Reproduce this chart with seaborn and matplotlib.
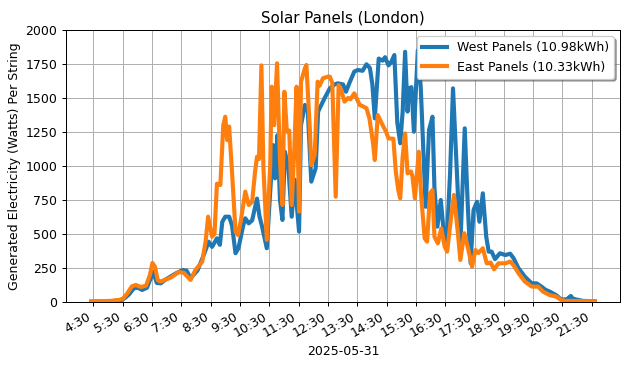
#!/usr/bin/env python3

import pandas as pd
import matplotlib
matplotlib.use("Agg")
import matplotlib.pyplot as plt
import matplotlib.dates as mdates
import seaborn as sns

DAY = "2025-05-31"

west_times = [
    "4:26", "5:07", "5:29", "5:35", "5:43", "5:53", "6:01", "6:10", "6:20", "6:28",
    "6:32", "6:40", "6:48", "6:58", "7:19", "7:33", "7:41", "7:49", "8:03", "8:16",
    "8:26", "8:33", "8:43", "8:49", "8:54", "9:00", "9:08", "9:14", "9:21", "9:27",
    "9:37", "9:41", "9:48", "9:55", "10:05", "10:10", "10:15", "10:25", "10:32", "10:38",
    "10:42", "10:47", "10:52", "10:57", "11:02", "11:09", "11:16", "11:22", "11:31", "11:35",
    "11:43", "11:49", "11:56", "12:05", "12:10", "12:23", "12:34", "12:44", "12:50", "13:01",
    "13:07", "13:14", "13:24", "13:31", "13:41", "13:49", "13:56", "14:01", "14:06", "14:14",
    "14:22", "14:27", "14:34", "14:39", "14:46", "14:52", "14:58", "15:03", "15:08", "15:13",
    "15:16", "15:21", "15:26", "15:34", "15:40", "15:50", "15:57", "16:04", "16:08", "16:14",
    "16:21", "16:26", "16:33", "16:40", "16:46", "16:53", "17:01", "17:10", "17:16", "17:22",
    "17:28", "17:35", "17:40", "17:47", "17:54", "17:59", "18:05", "18:12", "18:22", "18:33",
    "18:43", "18:50", "19:00", "19:13", "19:27", "19:37", "19:47", "19:55", "20:04", "20:17",
    "20:25", "20:31", "20:39", "20:47", "20:51", "20:58", "21:12", "21:36",
]
west_watts = [
    3, 5, 15, 30, 55, 100, 105, 88, 105, 180,
    223, 140, 137, 165, 210, 235, 230, 176, 230, 345,
    443, 405, 468, 420, 590, 627, 627, 560, 358, 395,
    566, 615, 578, 600, 760, 630, 560, 395, 811, 1154,
    909, 1228, 750, 603, 1105, 995, 627, 900, 517, 1300,
    1449, 1400, 885, 983, 1400, 1497, 1571, 1600, 1608, 1600,
    1546, 1610, 1694, 1706, 1700, 1748, 1720, 1600, 1350, 1790,
    1775, 1800, 1740, 1760, 1816, 1320, 1167, 1400, 1840, 1400,
    1571, 1580, 1252, 1850, 1580, 700, 1265, 1362, 838, 554,
    750, 554, 432, 946, 1571, 1020, 407, 1277, 727, 285,
    676, 737, 590, 799, 480, 370, 370, 315, 358, 345,
    355, 321, 248, 186, 137, 137, 113, 90, 76, 50,
    25, 18, 20, 44, 25, 18, 8, 5,
]

east_times = [
    "4:26", "5:07", "5:23", "5:31", "5:39", "5:49", "5:57", "6:08", "6:18", "6:26",
    "6:31", "6:36", "6:42", "6:48", "7:09", "7:25", "7:35", "7:49", "7:59", "8:13",
    "8:20", "8:25", "8:33", "8:38", "8:43", "8:50", "8:56", "9:00", "9:04", "9:08",
    "9:14", "9:21", "9:26", "9:32", "9:41", "9:48", "9:55", "10:01", "10:05", "10:09",
    "10:14", "10:18", "10:25", "10:32", "10:35", "10:40", "10:46", "10:52", "10:57", "11:01",
    "11:06", "11:11", "11:16", "11:21", "11:26", "11:31", "11:35", "11:43", "11:46", "11:53",
    "11:56", "12:03", "12:09", "12:13", "12:20", "12:30", "12:34", "12:39", "12:46", "12:52",
    "12:58", "13:04", "13:11", "13:16", "13:24", "13:35", "13:41", "13:49", "13:55", "14:02",
    "14:06", "14:12", "14:22", "14:29", "14:34", "14:44", "14:49", "14:54", "14:58", "15:03",
    "15:08", "15:13", "15:20", "15:23", "15:28", "15:36", "15:41", "15:48", "15:53", "15:59",
    "16:04", "16:08", "16:15", "16:22", "16:29", "16:34", "16:41", "16:48", "16:56", "17:01",
    "17:09", "17:16", "17:25", "17:32", "17:38", "17:47", "17:55", "18:03", "18:10", "18:19",
    "18:33", "18:43", "18:50", "19:00", "19:13", "19:27", "19:40", "19:50", "20:04", "20:17",
    "20:27", "20:35", "21:36",
]
east_watts = [
    3, 8, 15, 25, 60, 115, 125, 110, 120, 200,
    287, 260, 160, 150, 180, 220, 215, 162, 235, 297,
    450, 627, 480, 500, 870, 860, 1300, 1362, 1190, 1290,
    950, 517, 492, 600, 811, 713, 735, 958, 1068, 1050,
    1740, 1000, 456, 1007, 1583, 1300, 1755, 1040, 713, 1546,
    1252, 1260, 713, 1100, 1583, 664, 1620, 1718, 1743, 1277,
    1007, 1080, 1620, 1590, 1645, 1657, 1657, 1610, 774, 1595,
    1550, 1473, 1500, 1490, 1534, 1449, 1440, 1424, 1350, 1179,
    1044, 1375, 1300, 1252, 1203, 1200, 958, 823, 762, 1068,
    1240, 946, 960, 924, 762, 1105, 774, 468, 443, 799,
    823, 480, 431, 541, 407, 370, 590, 787, 505, 309,
    505, 407, 260, 382, 360, 395, 284, 290, 240, 284,
    284, 297, 270, 211, 150, 113, 113, 76, 50, 40,
    15, 8, 5,
]

west_kwh = 10.98
east_kwh = 10.33


def to_frame(times, watts):
    return pd.DataFrame({
        "time": pd.to_datetime([f"{DAY} {t}" for t in times]),
        "watts": watts,
    })


def plot_solar():
    west = to_frame(west_times, west_watts)
    east = to_frame(east_times, east_watts)

    # 630x366 px at 90 dpi
    fig, ax = plt.subplots(figsize=(7.0, 366 / 90), dpi=90)
    sns.lineplot(x="time", y="watts", data=west, color="#1f77b4", linewidth=3.3,
                 label=f"West Panels ({west_kwh:.2f}kWh)", ax=ax)
    sns.lineplot(x="time", y="watts", data=east, color="#ff7f0e", linewidth=3.3,
                 label=f"East Panels ({east_kwh:.2f}kWh)", ax=ax)

    ax.set_ylim(0, 2000)
    ax.set_yticks(range(0, 2001, 250))
    ax.xaxis.set_major_locator(mdates.MinuteLocator(byminute=[30]))
    ax.xaxis.set_major_formatter(mdates.DateFormatter("%-H:%M"))
    ax.grid(True)
    ax.set_title("Solar Panels (London)")
    ax.set_xlabel(DAY)
    ax.set_ylabel("Generated Electricity (Watts) Per String")
    ax.legend(loc="upper right", shadow=True)
    plt.setp(ax.get_xticklabels(), rotation=30, ha="right")

    fig.subplots_adjust(left=0.105, right=0.984, bottom=0.175, top=0.918)
    plt.savefig("out.png", dpi=90)


if __name__ == "__main__":
    plot_solar()
